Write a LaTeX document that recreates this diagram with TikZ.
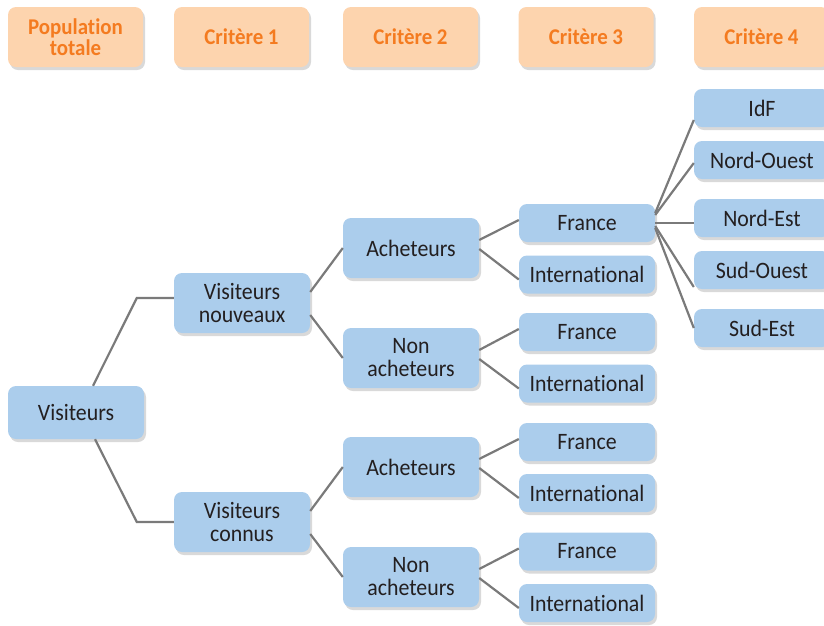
\documentclass[tikz,border=0pt]{standalone}
\usepackage{fontspec}
\setmainfont[Ligatures=NoCommon,FakeStretch=0.93]{Carlito}
\usetikzlibrary{shadows}
\definecolor{hdrfill}{HTML}{FDD4AE}
\definecolor{hdrtext}{HTML}{F47B20}
\definecolor{boxfill}{HTML}{ABCDEC}
\definecolor{boxtext}{HTML}{231F20}
\definecolor{linkc}{HTML}{7A7A7A}
\tikzset{
  hdr/.style={fill=hdrfill, rounded corners=8pt, minimum width=135pt, minimum height=60pt,
    inner sep=0pt, align=center, text=hdrtext, font=\fontsize{22.5}{21}\selectfont\bfseries,
    drop shadow={shadow xshift=2pt, shadow yshift=-3pt, opacity=0.3}},
  bx/.style={fill=boxfill, rounded corners=8pt, minimum width=136pt, inner sep=0pt,
    align=center, text=boxtext, font=\fontsize{23.5}{23}\selectfont,
    drop shadow={shadow xshift=2pt, shadow yshift=-3pt, opacity=0.3}},
  big/.style={bx, minimum height=60pt},
  small/.style={bx, minimum height=38pt},
  link/.style={draw=linkc, line width=2.2pt},
}
\begin{document}
\begin{tikzpicture}[x=1pt,y=-1pt]
\useasboundingbox (0,0) rectangle (824,625);
% headers
\node[hdr] (pop) at (75.5,37) {Population\\totale};
\node[hdr] (c1) at (241.5,37) {Critère 1};
\node[hdr] (c2) at (410.5,37) {Critère 2};
\node[hdr] (c3) at (586,37) {Critère 3};
\node[hdr] (c4) at (761.5,37) {Critère 4};
% tree
\node[bx, minimum height=53pt] (vis) at (76,412.5) {Visiteurs};
\node[big] (vn) at (242,303) {Visiteurs\\nouveaux};
\node[big] (vc) at (242,522) {Visiteurs\\connus};
\node[big] (a1) at (411,248) {Acheteurs};
\node[big] (n1) at (411,358) {Non\\acheteurs};
\node[big] (a2) at (411,467) {Acheteurs};
\node[big] (n2) at (411,577) {Non\\acheteurs};
\node[small] (f1) at (587,223) {France};
\node[small] (i1) at (587,274.5) {International};
\node[small] (f2) at (587,332) {France};
\node[small] (i2) at (587,383.5) {International};
\node[small] (f3) at (587,442) {France};
\node[small] (i3) at (587,493) {International};
\node[small] (f4) at (587,551.5) {France};
\node[small] (i4) at (587,603) {International};
\node[small] (idf) at (762,108) {IdF};
\node[small] (no) at (762,160) {Nord-Ouest};
\node[small] (ne) at (762,218) {Nord-Est};
\node[small] (so) at (762,270) {Sud-Ouest};
\node[small] (se) at (762,328) {Sud-Est};
% connectors
\draw[link] ([xshift=17pt]vis.north) -- ([xshift=-37pt,yshift=5pt]vn.west) -- ([yshift=5pt]vn.west);
\draw[link] ([xshift=19pt]vis.south) -- ([xshift=-37pt]vc.west) -- (vc.west);
\foreach \p/\a/\n in {vn/a1/n1, vc/a2/n2}{
  \draw[link] ([yshift=11pt]\p.east) -- (\a.west);
  \draw[link] ([yshift=-12pt]\p.east) -- (\n.west);
}
\foreach \p/\f/\i in {a1/f1/i1, n1/f2/i2, a2/f3/i3, n2/f4/i4}{
  \draw[link] ([yshift=8pt]\p.east) -- ([yshift=3pt]\f.west);
  \draw[link] ([yshift=-1pt]\p.east) -- ([yshift=-5pt]\i.west);
}
\draw[link] ([yshift=10pt]f1.east) -- ([yshift=-12pt]idf.west);
\draw[link] ([yshift=8pt]f1.east) -- ([yshift=-3pt]no.west);
\draw[link] (f1.east) -- ([yshift=-5pt]ne.west);
\draw[link] ([yshift=-3pt]f1.east) -- ([yshift=-17pt]so.west);
\draw[link] ([yshift=-5pt]f1.east) -- (se.west);
\end{tikzpicture}
\end{document}
